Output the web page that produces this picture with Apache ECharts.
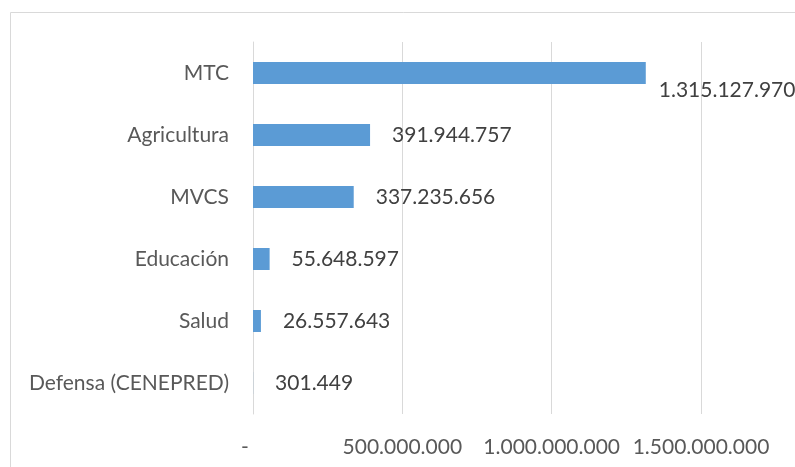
<!DOCTYPE html>
<html>
<head>
<meta charset="utf-8">
<script src="https://cdn.jsdelivr.net/npm/echarts@6/dist/echarts.min.js"></script>
<style>
  html, body { margin: 0; padding: 0; background: #fff; }
  #main { width: 795px; height: 467px; }
</style>
</head>
<body>
<div id="main"></div>
<script>
var categories = ['Defensa (CENEPRED)', 'Salud', 'Educación', 'MVCS', 'Agricultura', 'MTC'];
var values = [301449, 26557643, 55648597, 337235656, 391944757, 1315127970];
var tickLabels = { 0: '-   ', 500000000: '500.000.000', 1000000000: '1.000.000.000', 1500000000: '1.500.000.000' };

function fmt(v) {
    return String(v).replace(/\B(?=(\d{3})+(?!\d))/g, '.');
}

var myChart = echarts.init(document.getElementById('main'));
var font = 'Lato';

var barData = values.map(function (v, i) {
    var item = { value: v };
    if (categories[i] === 'MTC') {
        item.label = { distance: 13, offset: [0, 17] };
    }
    return item;
});

option = {
    animation: false,
    grid: {
        left: 253,
        right: 94,
        top: 42,
        bottom: 53
    },
    graphic: [{
        type: 'rect',
        shape: { x: 10.5, y: 12.5, width: 820, height: 500 },
        style: { fill: 'none', stroke: '#d9d9d9', lineWidth: 1 },
        silent: true
    }],
    xAxis: {
        type: 'value',
        min: 0,
        max: 1500000000,
        interval: 500000000,
        axisLine: { show: false },
        axisTick: { show: false },
        splitLine: { show: true, lineStyle: { color: '#d9d9d9', width: 1 } },
        axisLabel: {
            margin: 23,
            color: '#595959',
            fontFamily: font,
            fontSize: 21,
            formatter: function (v) {
                return tickLabels[v] !== undefined ? tickLabels[v] : fmt(v);
            }
        }
    },
    yAxis: {
        type: 'category',
        data: categories,
        axisLine: { show: true, lineStyle: { color: '#d9d9d9', width: 1 } },
        axisTick: { show: false },
        axisLabel: {
            margin: 24,
            color: '#595959',
            fontFamily: font,
            fontSize: 21
        }
    },
    series: [{
        type: 'bar',
        data: barData,
        barWidth: 22,
        itemStyle: { color: '#5b9bd5' },
        label: {
            show: true,
            position: 'right',
            distance: 22,
            color: '#404040',
            fontFamily: font,
            fontSize: 21,
            formatter: function (p) { return fmt(p.value); }
        }
    }]
};
myChart.setOption(option);
</script>
</body>
</html>
